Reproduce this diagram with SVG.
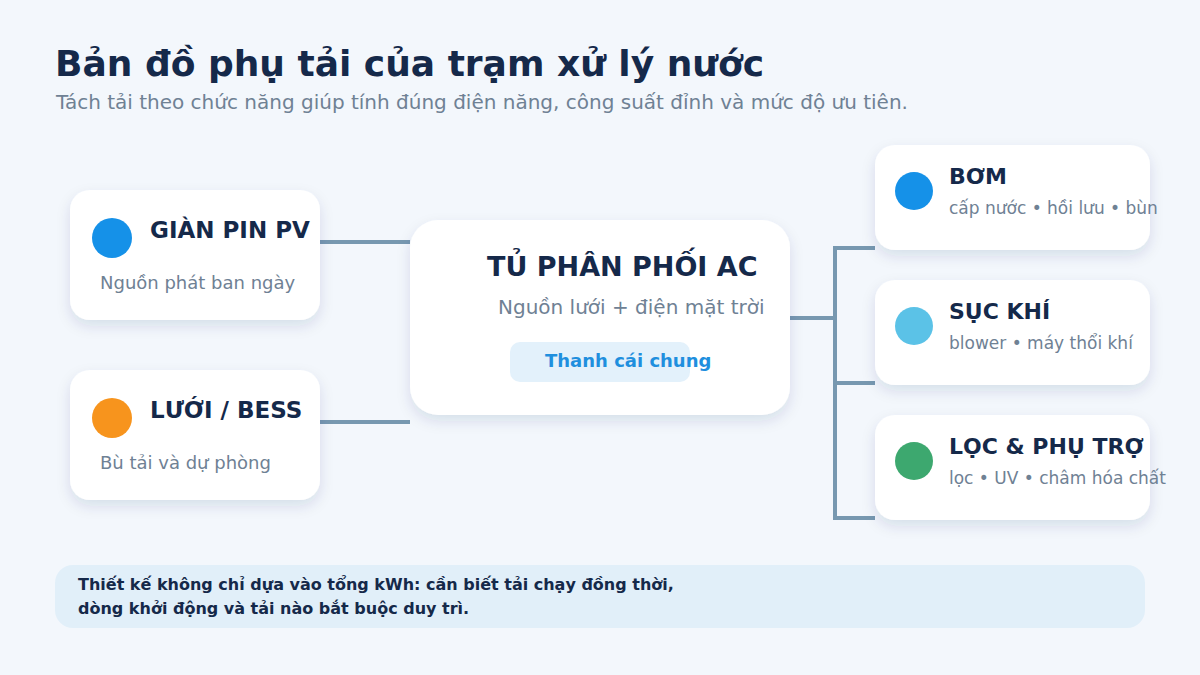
<svg xmlns="http://www.w3.org/2000/svg" width="1200" height="675" viewBox="0 0 1200 675">
<defs>
<filter id="sh" x="-20%" y="-20%" width="140%" height="150%">
<feDropShadow dx="0" dy="6" stdDeviation="7" flood-color="#1e3a5f" flood-opacity="0.12"/>
</filter>
<style>
.card{fill:#ffffff;filter:url(#sh)}
.t{font-family:"DejaVu Sans",sans-serif;font-weight:bold;fill:#15294a}
.s{font-family:"DejaVu Sans",sans-serif;fill:#6f8194}
.con{stroke:#7798b0;stroke-width:4;fill:none}
</style>
</defs>
<rect width="1200" height="675" fill="#f3f7fc"/>
<text class="t" x="55" y="76" font-size="36">Bản đồ phụ tải của trạm xử lý nước</text>
<text class="s" x="56" y="109" font-size="20">Tách tải theo chức năng giúp tính đúng điện năng, công suất đỉnh và mức độ ưu tiên.</text>
<g id="connectors">
<line class="con" x1="320" y1="242" x2="410" y2="242"/>
<line class="con" x1="320" y1="422" x2="410" y2="422"/>
<line class="con" x1="790" y1="318" x2="835" y2="318"/>
<polyline class="con" points="875,248 835,248 835,518 875,518"/>
<line class="con" x1="835" y1="383" x2="875" y2="383"/>
</g>
<g id="pv">
<rect class="card" x="70" y="190" width="250" height="130" rx="20"/>
<circle cx="112" cy="238" r="20" fill="#1591e8"/>
<text class="t" x="150" y="238" font-size="23">GIÀN PIN PV</text>
<text class="s" x="100" y="289" font-size="18">Nguồn phát ban ngày</text>
</g>
<g id="grid">
<rect class="card" x="70" y="370" width="250" height="130" rx="20"/>
<circle cx="112" cy="418" r="20" fill="#f7941d"/>
<text class="t" x="150" y="418" font-size="23">LƯỚI / BESS</text>
<text class="s" x="100" y="469" font-size="18">Bù tải và dự phòng</text>
</g>
<g id="panel">
<rect class="card" x="410" y="220" width="380" height="195" rx="28"/>
<text class="t" x="487" y="276" font-size="27">TỦ PHÂN PHỐI AC</text>
<text class="s" x="498" y="314" font-size="20">Nguồn lưới + điện mặt trời</text>
<rect x="510" y="342" width="180" height="40" rx="10" fill="#e3f1fb"/>
<text x="545" y="367" font-size="18" font-family="DejaVu Sans, sans-serif" font-weight="bold" fill="#1f8fde">Thanh cái chung</text>
</g>
<g id="pump">
<rect class="card" x="875" y="145" width="275" height="105" rx="20"/>
<circle cx="914" cy="191" r="19" fill="#1591e8"/>
<text class="t" x="949" y="184" font-size="22">BƠM</text>
<text class="s" x="949" y="214" font-size="17">cấp nước • hồi lưu • bùn</text>
</g>
<g id="aeration">
<rect class="card" x="875" y="280" width="275" height="105" rx="20"/>
<circle cx="914" cy="326" r="19" fill="#5bc2e7"/>
<text class="t" x="949" y="319" font-size="22">SỤC KHÍ</text>
<text class="s" x="949" y="349" font-size="17">blower • máy thổi khí</text>
</g>
<g id="filter">
<rect class="card" x="875" y="415" width="275" height="105" rx="20"/>
<circle cx="914" cy="461" r="19" fill="#3da86f"/>
<text class="t" x="949" y="454" font-size="22">LỌC &amp; PHỤ TRỢ</text>
<text class="s" x="949" y="484" font-size="17">lọc • UV • châm hóa chất</text>
</g>
<g id="note">
<rect x="55" y="565" width="1090" height="63" rx="18" fill="#e1eff9"/>
<text class="t" x="78" y="590" font-size="16">Thiết kế không chỉ dựa vào tổng kWh: cần biết tải chạy đồng thời,</text>
<text class="t" x="78" y="614" font-size="16">dòng khởi động và tải nào bắt buộc duy trì.</text>
</g>
</svg>
